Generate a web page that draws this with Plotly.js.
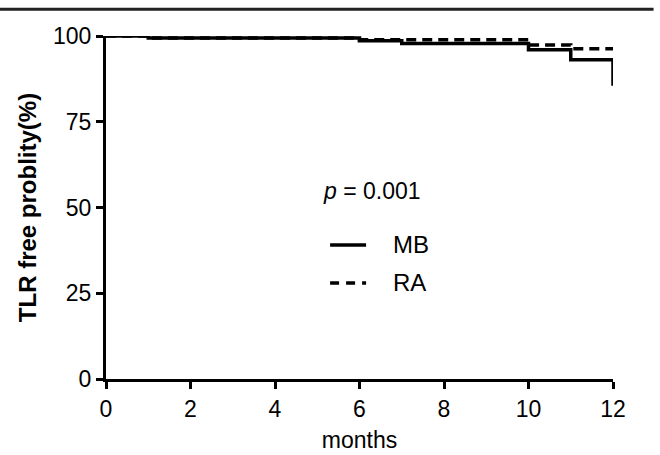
<!DOCTYPE html>
<html>
<head>
<meta charset="utf-8">
<script src="https://cdn.plot.ly/plotly-3.0.1.min.js"></script>
<style>html,body{margin:0;padding:0;background:#fff;}#chart{width:660px;height:455px;}</style>
</head>
<body>
<div id="chart"></div>
<script>
// Kaplan-Meier step data (months, TLR free probability %)
const mbMonths = [0, 1, 6, 7, 10, 11, 12];
const mbValues = [100, 99.4, 98.6, 97.8, 96.0, 93.1, 85.5];
const raMonths = [0, 1, 6, 10, 11, 12];
const raValues = [100, 99.4, 98.9, 97.4, 96.3, 96.3];
const seriesNames = ['MB', 'RA'];
const xTicks = [0, 2, 4, 6, 8, 10, 12];
const yTicks = [0, 25, 50, 75, 100];
const pText = '<i>p</i> = 0.001';

const font = 'Liberation Sans, Arial, sans-serif';
const dashStyle = '10px,6px';

const traces = [
  {x: mbMonths, y: mbValues, name: seriesNames[0], mode: 'lines', line: {shape: 'hv', color: '#000', width: 3.5}},
  {x: raMonths, y: raValues, name: seriesNames[1], mode: 'lines', line: {shape: 'hv', color: '#000', width: 3.5, dash: dashStyle}}
];

// manual legend (sample lines + labels) in paper coordinates
const legRows = [0.391, 0.280];
const legX0 = 0.442, legX1 = 0.513, legTextX = 0.562;

const layout = {
  width: 660, height: 455,
  margin: {l: 106, r: 47, t: 36, b: 76},
  paper_bgcolor: '#fff', plot_bgcolor: '#fff',
  font: {family: font, color: '#000', size: 23},
  showlegend: false,
  xaxis: {
    range: [0, 12], tickvals: xTicks, ticktext: xTicks.map(String),
    showline: true, linewidth: 3, linecolor: '#000', showgrid: false, zeroline: false,
    ticks: 'outside', ticklen: 7, tickwidth: 3, tickcolor: '#000',
    tickfont: {size: 23, family: font},
    title: {text: 'months', font: {size: 23, family: font}, standoff: 12}
  },
  yaxis: {
    range: [0, 100], tickvals: yTicks, ticktext: yTicks.map(String),
    showline: true, linewidth: 3, linecolor: '#000', showgrid: false, zeroline: false,
    ticks: 'outside', ticklen: 7, tickwidth: 3, tickcolor: '#000',
    tickfont: {size: 23, family: font},
    title: {text: '<b>TLR free problity(%)</b>', font: {size: 24, family: font}, standoff: 10}
  },
  annotations: [
    {text: pText, xref: 'paper', yref: 'paper', x: 0.525, y: 0.548, xanchor: 'center', yanchor: 'middle', showarrow: false, font: {size: 23, family: font}},
    {text: seriesNames[0], xref: 'paper', yref: 'paper', x: legTextX, y: legRows[0], xanchor: 'left', yanchor: 'middle', showarrow: false, font: {size: 24, family: font}},
    {text: seriesNames[1], xref: 'paper', yref: 'paper', x: legTextX, y: legRows[1], xanchor: 'left', yanchor: 'middle', showarrow: false, font: {size: 24, family: font}}
  ],
  shapes: [
    {type: 'line', xref: 'paper', yref: 'paper', x0: -0.21, x1: 1.08, y0: 1.078, y1: 1.078, line: {color: '#222', width: 3}},
    {type: 'line', xref: 'paper', yref: 'paper', x0: legX0, x1: legX1, y0: legRows[0], y1: legRows[0], line: {color: '#000', width: 3.5}},
    {type: 'line', xref: 'paper', yref: 'paper', x0: legX0, x1: legX1, y0: legRows[1], y1: legRows[1], line: {color: '#000', width: 3.5, dash: '9px,7px'}}
  ]
};

Plotly.newPlot('chart', traces, layout, {staticPlot: true, displayModeBar: false});
</script>
</body>
</html>
